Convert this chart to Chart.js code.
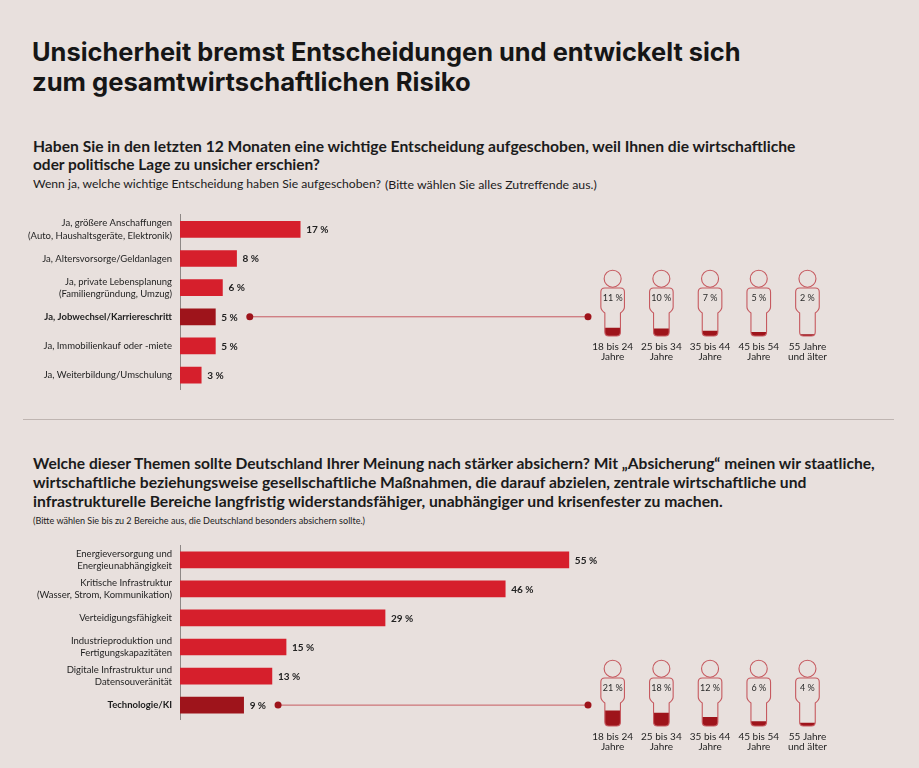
<!DOCTYPE html>
<html lang="de">
<head>
<meta charset="utf-8">
<title>Unsicherheit bremst Entscheidungen</title>
<script src="https://cdn.jsdelivr.net/npm/chart.js@4.4.0/dist/chart.umd.min.js"></script>
<style>
  body { margin: 0; background: #e8e0dd; width: 919px; height: 768px; overflow: hidden; position: relative; font-family: Lato, sans-serif; color: #1b1b1b; }
  .t { position: absolute; white-space: nowrap; line-height: 1.2; }
  .title { font-family: Inter, sans-serif; font-weight: 700; font-size: 27px; color: #161616; }
  .q { font-weight: 700; font-size: 15px; }
  .s { font-size: 12px; }
  .xs { font-size: 9px; }
  .sep { position: absolute; left: 23px; top: 419px; width: 871px; height: 1px; background: #bfb5b1; }
  canvas { position: absolute; }
</style>
</head>
<body>
<div class="t title" data-x="32" data-w="709" data-cy="52">Unsicherheit bremst Entscheidungen und entwickelt sich</div>
<div class="t title" data-x="32" data-w="439" data-cy="82">zum gesamtwirtschaftlichen Risiko</div>

<div class="t q" data-x="33" data-w="763" data-cy="146">Haben Sie in den letzten 12 Monaten eine wichtige Entscheidung aufgeschoben, weil Ihnen die wirtschaftliche</div>
<div class="t q" data-x="33" data-w="287" data-cy="164">oder politische Lage zu unsicher erschien?</div>
<div class="t s" data-x="33" data-w="348" data-cy="184">Wenn ja, welche wichtige Entscheidung haben Sie aufgeschoben?</div>
<div class="t xs" data-x="385" data-w="212" data-cy="185">(Bitte wählen Sie alles Zutreffende aus.)</div>

<div class="sep"></div>

<div class="t q" data-x="33" data-w="842" data-cy="463">Welche dieser Themen sollte Deutschland Ihrer Meinung nach stärker absichern? Mit „Absicherung“ meinen wir staatliche,</div>
<div class="t q" data-x="33" data-w="774" data-cy="482">wirtschaftliche beziehungsweise gesellschaftliche Maßnahmen, die darauf abzielen, zentrale wirtschaftliche und</div>
<div class="t q" data-x="33" data-w="690" data-cy="501">infrastrukturelle Bereiche langfristig widerstandsfähiger, unabhängiger und krisenfester zu machen.</div>
<div class="t xs" data-x="33" data-w="332" data-cy="521">(Bitte wählen Sie bis zu 2 Bereiche aus, die Deutschland besonders absichern sollte.)</div>

<canvas id="bars1" width="919" height="210" style="left:0;top:200px"></canvas>
<canvas id="bars2" width="919" height="210" style="left:0;top:530px"></canvas>
<canvas id="age1" width="300" height="115" style="left:560px;top:255px"></canvas>
<canvas id="age2" width="300" height="115" style="left:560px;top:645px"></canvas>

<script>
// data
const decisionLabels = [
  ['Ja, größere Anschaffungen', '(Auto, Haushaltsgeräte, Elektronik)'],
  'Ja, Altersvorsorge/Geldanlagen',
  ['Ja, private Lebensplanung', '(Familiengründung, Umzug)'],
  'Ja, Jobwechsel/Karriereschritt',
  'Ja, Immobilienkauf oder -miete',
  'Ja, Weiterbildung/Umschulung'
];
const decisionValues = [17, 8, 6, 5, 5, 3];

const topicLabels = [
  ['Energieversorgung und', 'Energieunabhängigkeit'],
  ['Kritische Infrastruktur', '(Wasser, Strom, Kommunikation)'],
  'Verteidigungsfähigkeit',
  ['Industrieproduktion und', 'Fertigungskapazitäten'],
  ['Digitale Infrastruktur und', 'Datensouveränität'],
  'Technologie/KI'
];
const topicValues = [55, 46, 29, 15, 13, 9];

const ageLabels = [
  ['18 bis 24', 'Jahre'],
  ['25 bis 34', 'Jahre'],
  ['35 bis 44', 'Jahre'],
  ['45 bis 54', 'Jahre'],
  ['55 Jahre', 'und älter']
];
const jobByAge = [11, 10, 7, 5, 2];   // Jobwechsel/Karriereschritt
const techByAge = [21, 18, 12, 6, 4]; // Technologie/KI

const RED = '#d61f2c';
const DARK = '#9e141b';
const LINE = '#c65a60';

// fit text lines to their widths in the picture
document.querySelectorAll('.t').forEach(el => {
  const fs = parseFloat(getComputedStyle(el).fontSize);
  const w = el.getBoundingClientRect().width;
  el.style.fontSize = (fs * (+el.dataset.w) / w).toFixed(2) + 'px';
  const h = el.getBoundingClientRect().height;
  el.style.left = el.dataset.x + 'px';
  el.style.top = (+el.dataset.cy - h / 2) + 'px';
});

const valueLabels = {
  id: 'valueLabels',
  afterDatasetsDraw(chart) {
    const ctx = chart.ctx;
    const meta = chart.getDatasetMeta(0);
    ctx.save();
    ctx.font = 'bold 10px Lato';
    ctx.fillStyle = '#222';
    ctx.textBaseline = 'middle';
    meta.data.forEach((bar, i) => {
      ctx.fillText(chart.data.datasets[0].data[i] + ' %', bar.x + 6, bar.y + 0.5);
    });
    ctx.restore();
  }
};

const connector = {
  id: 'connector',
  afterDatasetsDraw(chart, args, opts) {
    const ctx = chart.ctx;
    const i = opts.index;
    const bar = chart.getDatasetMeta(0).data[i];
    ctx.save();
    ctx.font = 'bold 10px Lato';
    const x0 = bar.x + 6 + ctx.measureText(chart.data.datasets[0].data[i] + ' %').width + 12;
    ctx.strokeStyle = LINE;
    ctx.lineWidth = 1;
    ctx.beginPath();
    ctx.moveTo(x0, bar.y);
    ctx.lineTo(opts.end, bar.y);
    ctx.stroke();
    ctx.fillStyle = DARK;
    [x0, opts.end].forEach(x => {
      ctx.beginPath();
      ctx.arc(x, bar.y, 3.5, 0, Math.PI * 2);
      ctx.fill();
    });
    ctx.restore();
  }
};

function barChart(id, labels, values, hi, padTop, padBottom) {
  return new Chart(document.getElementById(id), {
    type: 'bar',
    data: {
      labels: labels,
      datasets: [{
        data: values,
        backgroundColor: values.map((v, i) => i === hi ? DARK : RED),
        barThickness: 16,
        borderWidth: 0
      }]
    },
    options: {
      indexAxis: 'y',
      responsive: false,
      animation: false,
      layout: { padding: { left: 0, right: 314.8, top: padTop, bottom: padBottom } },
      plugins: {
        legend: { display: false },
        tooltip: { enabled: false },
        connector: { index: hi, end: 588 }
      },
      scales: {
        x: { display: false, min: 0, max: 60 },
        y: {
          grid: { display: false, drawTicks: false },
          border: { display: true, color: '#8e8886', width: 1 },
          ticks: {
            padding: 8,
            color: '#1e1e1e',
            font: ctx => ({ family: 'Lato', size: 9.5, lineHeight: 1.3, weight: ctx.index === hi ? 'bold' : 'normal' })
          },
          afterFit(scale) { scale.width = 180; }
        }
      }
    },
    plugins: [valueLabels, connector]
  });
}

barChart('bars1', decisionLabels, decisionValues, 3, 14.8, 9.7);
barChart('bars2', topicLabels, topicValues, 5, 15.3, 9.7);

// body outline of a person figure, top of head at y0
function bodyPath(ctx, cx, y0) {
  const sh = 11.8, lg = 7.8, r = 4;
  const top = y0 + 18, step = y0 + 40, bot = y0 + 66;
  ctx.moveTo(cx - sh + r, top);
  ctx.lineTo(cx + sh - r, top);
  ctx.quadraticCurveTo(cx + sh, top, cx + sh, top + r);
  ctx.lineTo(cx + sh, step - 3);
  ctx.quadraticCurveTo(cx + sh, step, cx + lg, step + 3);
  ctx.lineTo(cx + lg, bot - r);
  ctx.quadraticCurveTo(cx + lg, bot, cx + lg - r, bot);
  ctx.lineTo(cx - lg + r, bot);
  ctx.quadraticCurveTo(cx - lg, bot, cx - lg, bot - r);
  ctx.lineTo(cx - lg, step + 3);
  ctx.quadraticCurveTo(cx - sh, step, cx - sh, step - 3);
  ctx.lineTo(cx - sh, top + r);
  ctx.quadraticCurveTo(cx - sh, top, cx - sh + r, top);
  ctx.closePath();
}

const persons = {
  id: 'persons',
  beforeDatasetsDraw(chart) {
    const ctx = chart.ctx;
    const xs = chart.scales.x;
    const y0 = chart.chartArea.bottom - 66;
    // fill bars only inside the bodies
    ctx.save();
    ctx.beginPath();
    chart.data.labels.forEach((l, i) => bodyPath(ctx, xs.getPixelForValue(i), y0));
    ctx.clip();
  },
  afterDatasetsDraw(chart) {
    const ctx = chart.ctx;
    ctx.restore();
    const xs = chart.scales.x;
    const y0 = chart.chartArea.bottom - 66;
    ctx.save();
    ctx.strokeStyle = LINE;
    ctx.lineWidth = 1.1;
    ctx.font = '9px Lato';
    ctx.fillStyle = '#2a2a2a';
    ctx.textAlign = 'center';
    ctx.textBaseline = 'middle';
    chart.data.datasets[0].data.forEach((v, i) => {
      const cx = xs.getPixelForValue(i);
      ctx.beginPath();
      bodyPath(ctx, cx, y0);
      ctx.stroke();
      ctx.beginPath();
      ctx.arc(cx, y0 + 8.7, 8.5, 0, Math.PI * 2);
      ctx.stroke();
      ctx.fillText(v + ' %', cx, y0 + 28);
    });
    ctx.restore();
  }
};

function ageChart(id, values) {
  return new Chart(document.getElementById(id), {
    type: 'bar',
    data: {
      labels: ageLabels,
      datasets: [{ data: values, backgroundColor: DARK, barThickness: 30, borderWidth: 0 }]
    },
    options: {
      responsive: false,
      animation: false,
      layout: { padding: { left: 28.3, right: 28.2, top: 9, bottom: 4 } },
      plugins: { legend: { display: false }, tooltip: { enabled: false } },
      scales: {
        x: {
          grid: { display: false, drawTicks: false },
          border: { display: false },
          ticks: { padding: 6, maxRotation: 0, autoSkip: false, color: '#1e1e1e', font: { family: 'Lato', size: 10, lineHeight: 1.0 } },
          afterFit(scale) { scale.height = 30; }
        },
        y: { display: false, min: 0, max: 100 }
      }
    },
    plugins: [persons]
  });
}

ageChart('age1', jobByAge);
ageChart('age2', techByAge);
</script>
</body>
</html>
